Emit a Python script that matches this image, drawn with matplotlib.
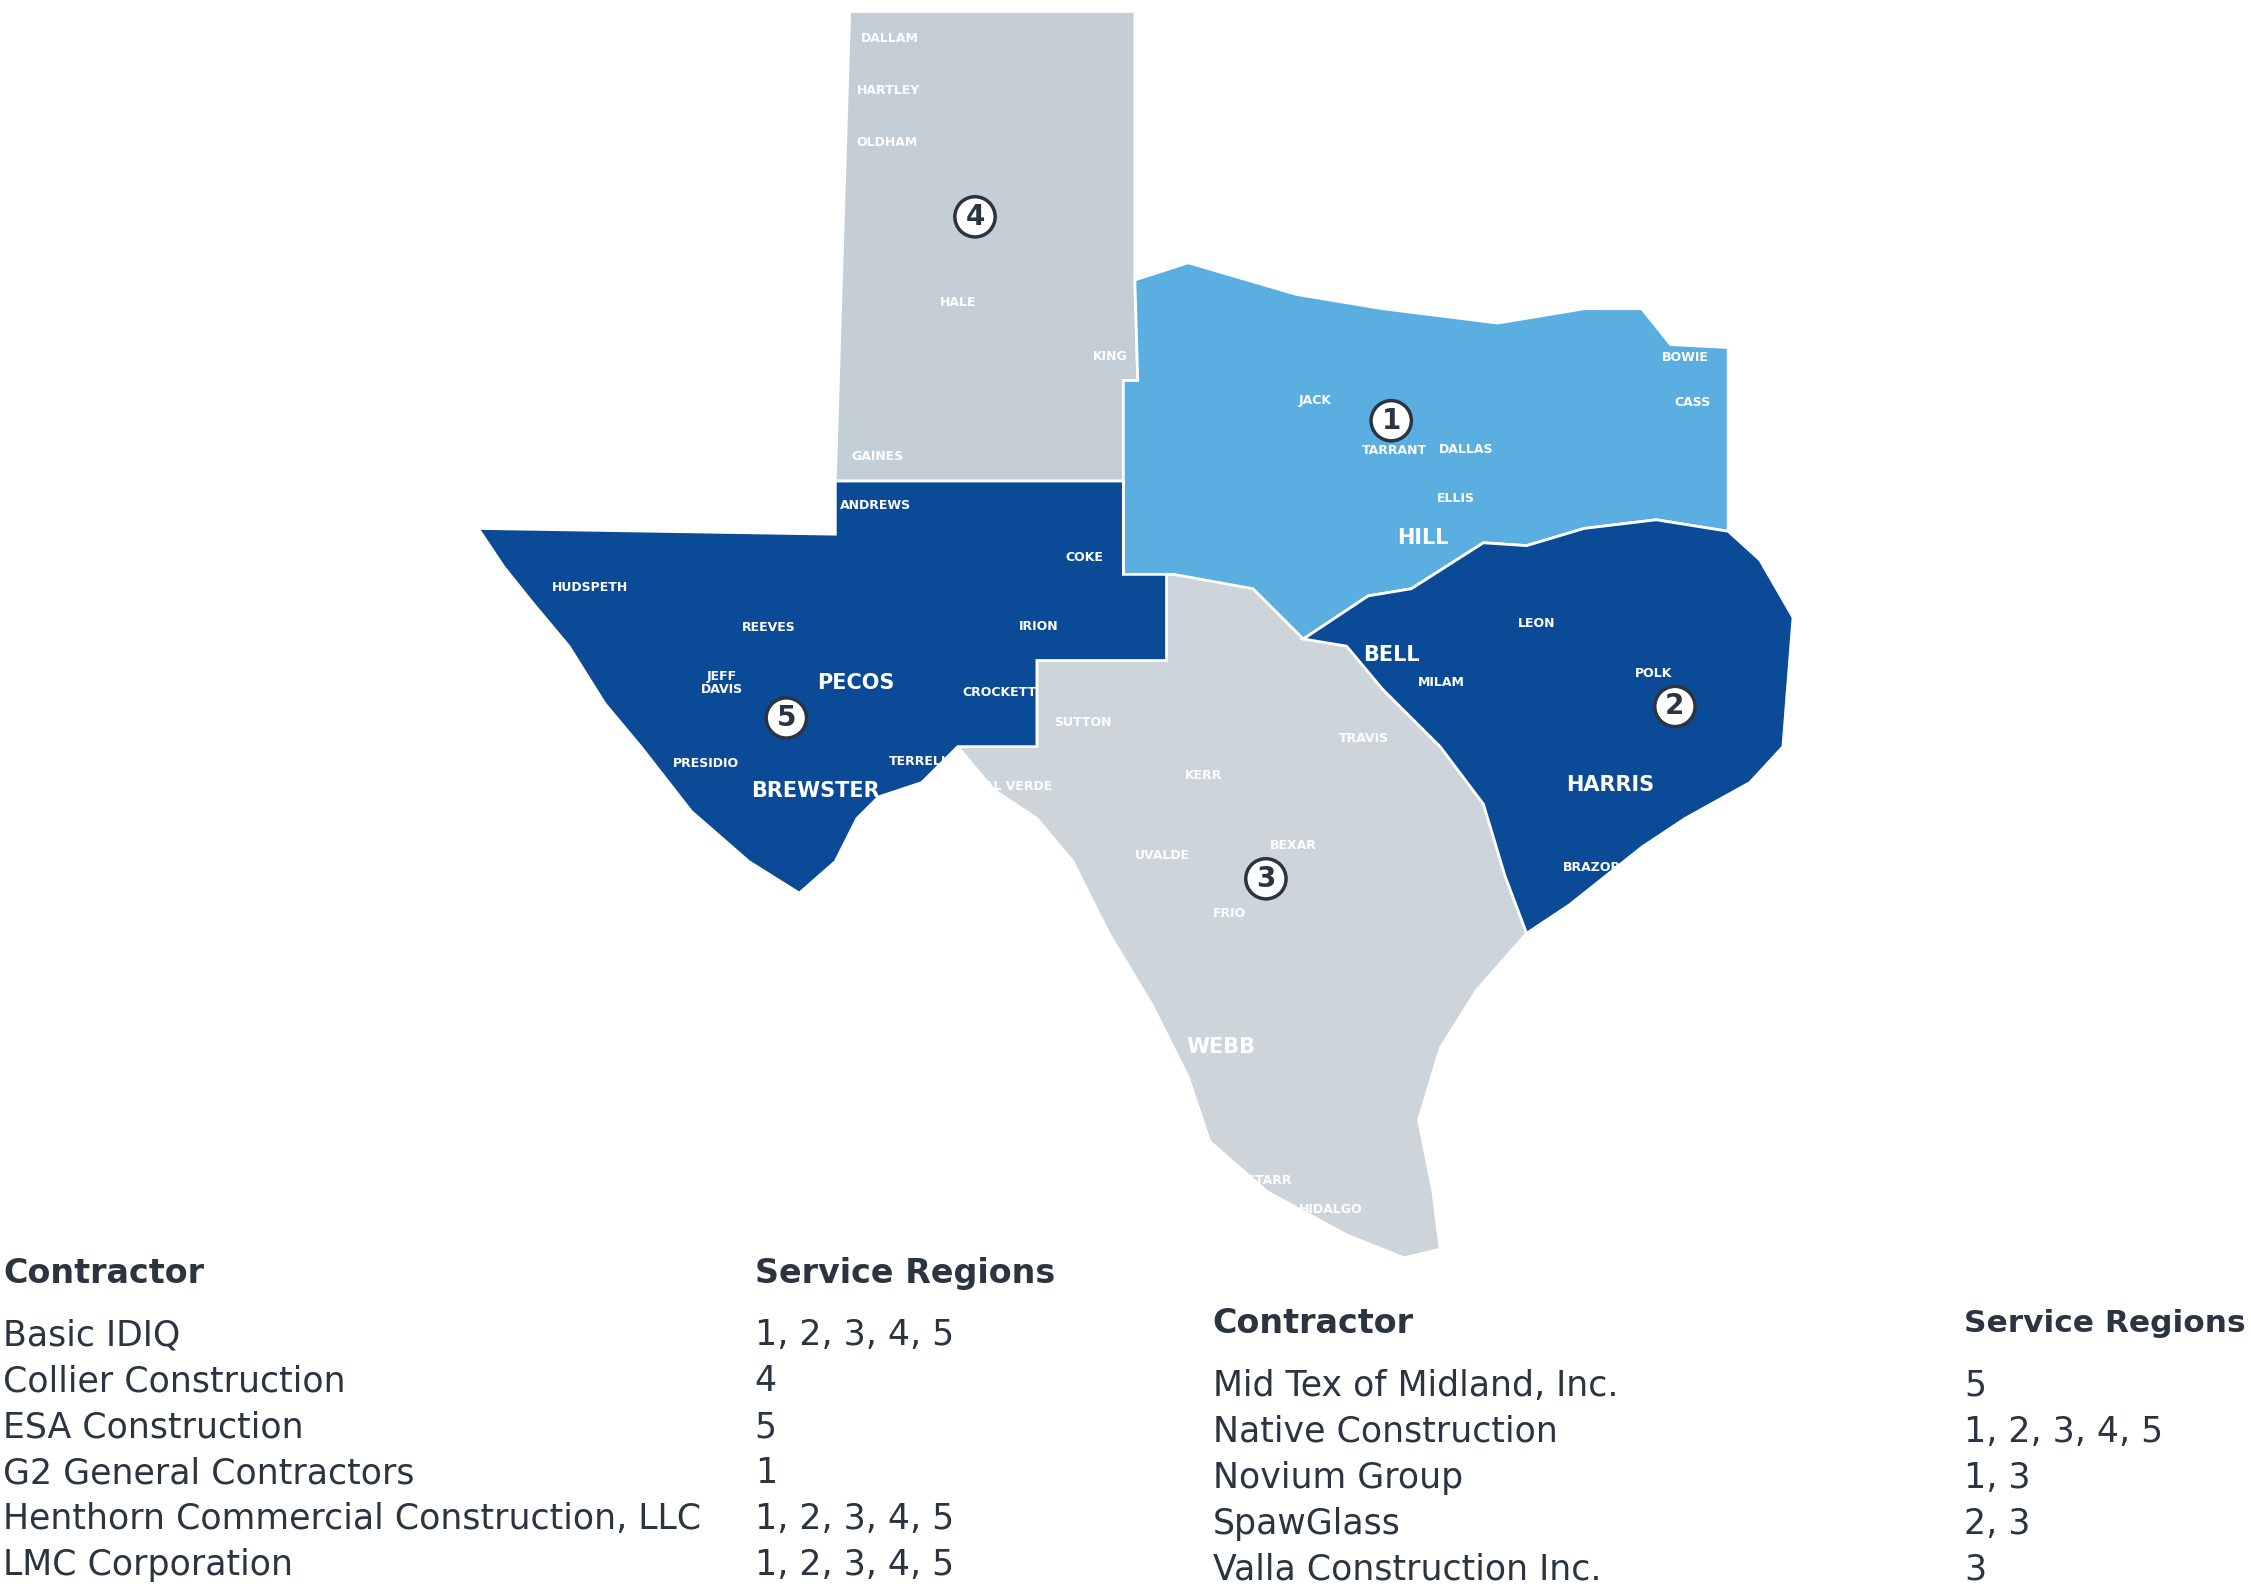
import matplotlib.pyplot as plt
from matplotlib.patches import Polygon, Circle

# map coordinates in reference display units (1563 x 1108)
texas = [(590, 8), (788, 8), (788, 195), (825, 183), (900, 205), (960, 215), (1040, 225),
         (1100, 215), (1140, 215), (1160, 240), (1200, 242), (1200, 370), (1222, 390),
         (1245, 430), (1238, 520), (1215, 545), (1170, 570), (1140, 590), (1090, 630),
         (1060, 650), (1025, 690), (1000, 730), (985, 780), (995, 830), (1000, 870),
         (975, 876), (935, 860), (880, 830), (840, 795), (825, 750), (800, 700), (770, 650),
         (745, 600), (720, 570), (690, 550), (665, 520), (640, 545), (610, 555), (595, 570),
         (580, 600), (555, 622), (520, 600), (480, 565), (445, 520), (420, 490), (395, 450),
         (370, 420), (350, 395), (332, 368), (580, 372), (580, 335)]
region4 = [(590, 8), (788, 8), (788, 195), (790, 265), (780, 265), (780, 335), (580, 335)]
region1 = [(788, 195), (825, 183), (900, 205), (960, 215), (1040, 225), (1100, 215), (1140, 215),
           (1160, 240), (1200, 242), (1200, 370), (1150, 362), (1100, 368), (1060, 380),
           (1030, 378), (980, 410), (950, 415), (905, 445), (870, 410), (815, 400), (780, 400),
           (780, 335), (780, 265), (790, 265)]
region5 = [(332, 368), (580, 372), (580, 335), (780, 335), (780, 400), (810, 400), (810, 460),
           (720, 460), (720, 520), (665, 520), (640, 545), (610, 555), (595, 570), (580, 600),
           (555, 622), (520, 600), (480, 565), (445, 520), (420, 490), (395, 450), (370, 420),
           (350, 395)]
region2 = [(1200, 370), (1222, 390), (1245, 430), (1238, 520), (1215, 545), (1170, 570),
           (1140, 590), (1090, 630), (1060, 650), (1045, 610), (1030, 560), (1000, 520),
           (960, 480), (935, 450), (905, 445), (950, 415), (980, 410), (1030, 378),
           (1060, 380), (1100, 368), (1150, 362)]

region_nums = ["1", "2", "3", "4", "5"]
region_xy = [(966, 293), (1163, 492), (879, 612), (677, 151), (546, 500)]

county_names = ["PECOS", "BREWSTER", "PRESIDIO", "HUDSPETH", "REEVES", "JEFF\nDAVIS", "TERRELL",
                "CROCKETT", "HARRIS", "BELL", "WEBB", "VAL VERDE", "GAINES", "ANDREWS",
                "DALLAS", "TARRANT", "BEXAR", "TRAVIS", "ELLIS", "HILL", "DALLAM", "HARTLEY",
                "OLDHAM", "HALE", "KING", "JACK", "CASS", "BOWIE", "POLK", "BRAZORIA", "FRIO",
                "UVALDE", "STARR", "HIDALGO", "SUTTON", "KERR", "MILAM", "LEON", "COKE", "IRION"]
county_xy = [(594, 476), (566, 551), (490, 532), (410, 409), (534, 437), (501, 476), (638, 530),
             (694, 482), (1118, 547), (966, 456), (848, 729), (704, 548), (609, 318), (608, 352),
             (1018, 313), (968, 314), (898, 589), (947, 514), (1011, 347), (988, 375), (618, 27),
             (617, 63), (616, 99), (665, 211), (771, 248), (913, 279), (1175, 280), (1170, 249),
             (1148, 469), (1110, 604), (854, 636), (807, 596), (881, 822), (924, 842), (752, 503),
             (836, 540), (1001, 475), (1067, 434), (753, 388), (721, 436)]

left_names = ["Basic IDIQ", "Collier Construction", "ESA Construction", "G2 General Contractors",
              "Henthorn Commercial Construction, LLC", "LMC Corporation"]
left_regions = ["1, 2, 3, 4, 5", "4", "5", "1", "1, 2, 3, 4, 5", "1, 2, 3, 4, 5"]
right_names = ["Mid Tex of Midland, Inc.", "Native Construction", "Novium Group", "SpawGlass",
               "Valla Construction Inc."]
right_regions = ["5", "1, 2, 3, 4, 5", "1, 3", "2, 3", "3"]

fig = plt.figure(figsize=(22.51, 15.91), dpi=100)
ax = fig.add_axes([0, 0, 1, 1])
ax.set_xlim(0, 1563)
ax.set_ylim(1108, 0)
ax.axis('off')

grey3, grey4, lblue, dblue = '#cdd5db', '#c3ced6', '#5aaee0', '#0b4a96'
ax.add_patch(Polygon(texas, closed=True, fc=grey3, ec='white', lw=2))
for pts, c in [(region4, grey4), (region1, lblue), (region5, dblue), (region2, dblue)]:
    ax.add_patch(Polygon(pts, closed=True, fc=c, ec='white', lw=2))

for name, (x, y) in zip(county_names, county_xy):
    big = name in ("PECOS", "HARRIS", "BELL", "WEBB", "BREWSTER", "HILL")
    ax.text(x, y, name, color='white', fontsize=15 if big else 9, fontweight='bold',
            ha='center', va='center', linespacing=1.0)

for n, (x, y) in zip(region_nums, region_xy):
    ax.add_patch(Circle((x, y), 14, fc='white', ec='#2b3440', lw=2.5, zorder=5))
    ax.text(x, y, n, fontsize=20, fontweight='bold', color='#2b3440', ha='center',
            va='center', zorder=6)

tc = '#2b3440'
fs = 25
hs = 24
ax.text(2, 887, "Contractor", fontsize=hs, fontweight='bold', color=tc, va='center')
ax.text(524, 887, "Service Regions", fontsize=hs, fontweight='bold', color=tc, va='center')
for i, (nm, rg) in enumerate(zip(left_names, left_regions)):
    y = 930 + 32 * i
    ax.text(2, y, nm, fontsize=fs, color=tc, va='center')
    ax.text(524, y, rg, fontsize=fs, color=tc, va='center')
ax.text(842, 922, "Contractor", fontsize=hs, fontweight='bold', color=tc, va='center')
ax.text(1364, 922, "Service Regions", fontsize=hs - 1.5, fontweight='bold', color=tc, va='center')
for i, (nm, rg) in enumerate(zip(right_names, right_regions)):
    y = 965 + 32 * i
    ax.text(842, y, nm, fontsize=fs, color=tc, va='center')
    ax.text(1364, y, rg, fontsize=fs, color=tc, va='center')

fig.savefig("out.png", dpi=100)
